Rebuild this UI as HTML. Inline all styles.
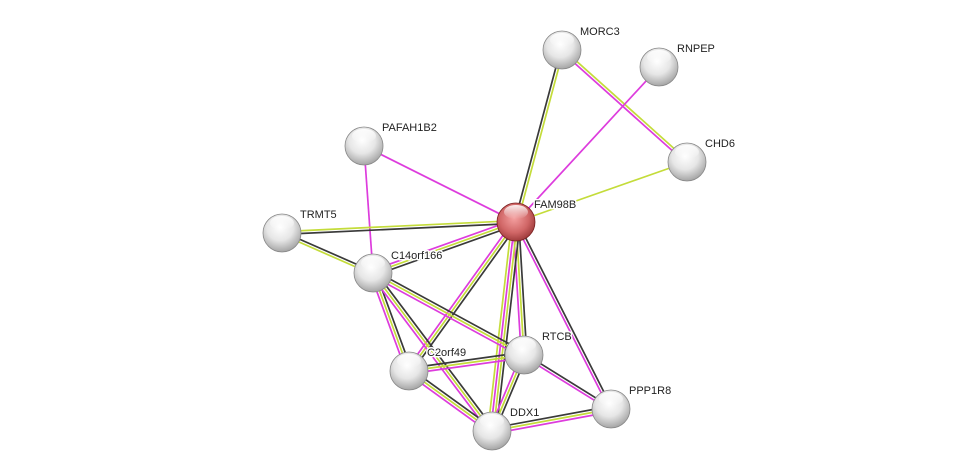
<!DOCTYPE html>
<html><head><meta charset="utf-8"><style>
html,body{margin:0;padding:0;background:#fff;}
svg{display:block;}
text{font-family:"Liberation Sans",sans-serif;font-size:11px;fill:#222;stroke:#fff;stroke-width:3px;paint-order:stroke;stroke-linejoin:round;}
</style></head><body>
<svg id="s" width="976" height="476" viewBox="0 0 976 476" xmlns="http://www.w3.org/2000/svg">
<defs>
<radialGradient id="g" cx="0.45" cy="0.35" r="0.7">
<stop offset="0" stop-color="#ffffff"/><stop offset="0.5" stop-color="#e6e6e6"/><stop offset="1" stop-color="#9a9a9a"/>
</radialGradient>
<radialGradient id="r" cx="0.45" cy="0.4" r="0.7">
<stop offset="0" stop-color="#f4a0a0"/><stop offset="0.55" stop-color="#d06666"/><stop offset="1" stop-color="#8a2a2a"/>
</radialGradient>
<linearGradient id="hl" x1="0" y1="0" x2="0" y2="1">
<stop offset="0" stop-color="#fff" stop-opacity="0.9"/><stop offset="1" stop-color="#fff" stop-opacity="0"/>
</linearGradient>
</defs>
<g id="edges"></g>
<g id="nodes"></g>
<g id="labels"></g>
</svg>
<script>
var N={FAM98B:[516,222,534,204],MORC3:[562,50,580,31],RNPEP:[659,67,677,48],CHD6:[687,162,705,143],
PAFAH1B2:[364,146,382,127],TRMT5:[282,233,300,214],C14orf166:[373,273,391,255],RTCB:[524,355,542,336],
C2orf49:[409,371,427,352],DDX1:[492,431,510,412],PPP1R8:[611,409,629,390]};
var K="#3a3a3a",Y="#c4dc3a",M="#dd3cdd";
var E=[["FAM98B","MORC3",[K,Y]],["MORC3","CHD6",[Y,M]],["FAM98B","RNPEP",[M]],["FAM98B","CHD6",[Y]],
["FAM98B","PAFAH1B2",[M]],["PAFAH1B2","C14orf166",[M]],["FAM98B","TRMT5",[K,Y]],["TRMT5","C14orf166",[K,Y]],
["FAM98B","C14orf166",[K,Y,M]],["FAM98B","C2orf49",[K,Y,M]],["FAM98B","RTCB",[K,Y,M]],["FAM98B","DDX1",[K,Y,M,Y]],
["FAM98B","PPP1R8",[K,M]],["C14orf166","RTCB",[K,Y,M]],["C14orf166","C2orf49",[K,Y,M]],["C14orf166","DDX1",[K,Y,M]],
["C2orf49","RTCB",[K,Y,M]],["C2orf49","DDX1",[K,Y,M]],["RTCB","DDX1",[K,Y,M]],["RTCB","PPP1R8",[K,M]],["DDX1","PPP1R8",[K,Y,M]]];
var ns="http://www.w3.org/2000/svg",eg=document.getElementById("edges"),ng=document.getElementById("nodes"),lg=document.getElementById("labels");
E.forEach(function(e){var a=N[e[0]],b=N[e[1]],dx=b[0]-a[0],dy=b[1]-a[1],L=Math.hypot(dx,dy),px=-dy/L,py=dx/L,n=e[2].length;
e[2].forEach(function(c,i){var o=(i-(n-1)/2)*2.8;var l=document.createElementNS(ns,"line");
l.setAttribute("x1",a[0]+px*o);l.setAttribute("y1",a[1]+py*o);l.setAttribute("x2",b[0]+px*o);l.setAttribute("y2",b[1]+py*o);
l.setAttribute("stroke",c);l.setAttribute("stroke-width","1.7");eg.appendChild(l);});});
for(var k in N){var p=N[k],red=k=="FAM98B";
var c=document.createElementNS(ns,"circle");c.setAttribute("cx",p[0]);c.setAttribute("cy",p[1]);c.setAttribute("r",19);
c.setAttribute("fill",red?"url(#r)":"url(#g)");c.setAttribute("stroke",red?"#7a2020":"#888");c.setAttribute("stroke-width","0.8");ng.appendChild(c);
var h=document.createElementNS(ns,"ellipse");h.setAttribute("cx",p[0]);h.setAttribute("cy",p[1]-10);h.setAttribute("rx",12);h.setAttribute("ry",7);
h.setAttribute("fill","url(#hl)");ng.appendChild(h);
var t=document.createElementNS(ns,"text");t.setAttribute("x",p[2]);t.setAttribute("y",p[3]+4);t.textContent=k;lg.appendChild(t);}
</script>
</body></html>
